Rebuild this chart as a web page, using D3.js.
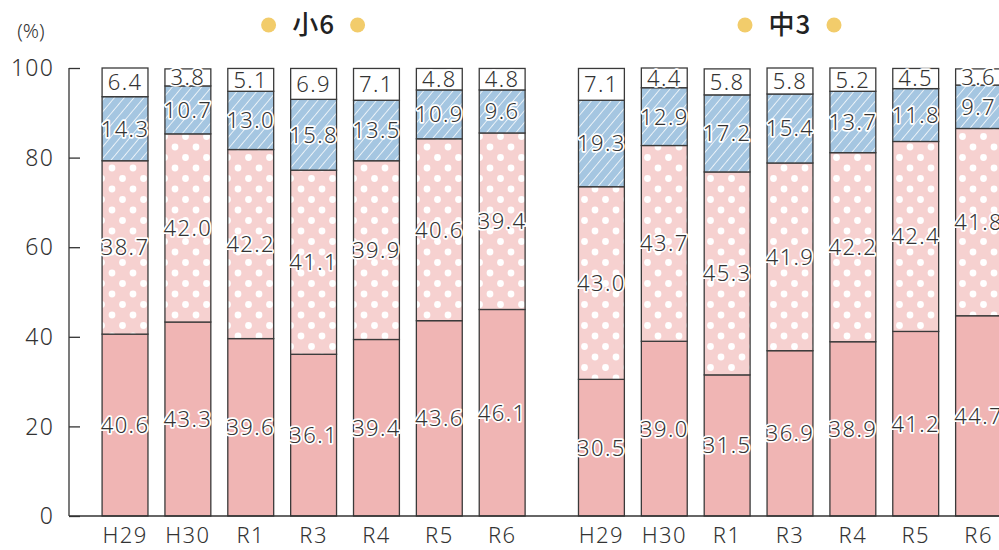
<!DOCTYPE html>
<html><head><meta charset="utf-8">
<script src="https://cdn.jsdelivr.net/npm/d3@7"></script>
<style>
html,body{margin:0;padding:0;background:#fff;}
svg{display:block;}
text{font-family:"Noto Sans","Noto Sans CJK JP",sans-serif;font-weight:300;}
text.title{font-family:"Noto Sans CJK JP","Noto Sans",sans-serif;font-weight:500;}
</style></head>
<body>
<svg id="chart" width="999" height="550"></svg>
<script>
const groups = ["小6", "中3"];
const years = ["H29", "H30", "R1", "R3", "R4", "R5", "R6"];
// segments bottom→top: solid, dotted, striped, white
const solid6   = [40.6, 43.3, 39.6, 36.1, 39.4, 43.6, 46.1];
const dot6     = [38.7, 42.0, 42.2, 41.1, 39.9, 40.6, 39.4];
const stripe6  = [14.3, 10.7, 13.0, 15.8, 13.5, 10.9, 9.6];
const white6   = [6.4, 3.8, 5.1, 6.9, 7.1, 4.8, 4.8];
const solid3   = [30.5, 39.0, 31.5, 36.9, 38.9, 41.2, 44.7];
const dot3     = [43.0, 43.7, 45.3, 41.9, 42.2, 42.4, 41.8];
const stripe3  = [19.3, 12.9, 17.2, 15.4, 13.7, 11.8, 9.7];
const white3   = [7.1, 4.4, 5.8, 5.8, 5.2, 4.5, 3.6];
const yTicks = [0, 20, 40, 60, 80, 100];

const seriesByGroup = [
  [solid6, dot6, stripe6, white6],
  [solid3, dot3, stripe3, white3]
];
const fills = ["#f0b5b4", "url(#dots)", "url(#stripes)", "#ffffff"];

const svg = d3.select("#chart");
const defs = svg.append("defs");
const pd = defs.append("pattern").attr("id", "dots").attr("patternUnits", "userSpaceOnUse")
  .attr("width", 21).attr("height", 21).attr("x", 7).attr("y", 0);
pd.append("rect").attr("width", 21).attr("height", 21).attr("fill", "#f6d1d0");
[[0,0],[21,0],[0,21],[21,21],[10.5,10.5]].forEach(p =>
  pd.append("circle").attr("cx", p[0]).attr("cy", p[1]).attr("r", 3.4).attr("fill", "#fff"));

const ps = defs.append("pattern").attr("id", "stripes").attr("patternUnits", "userSpaceOnUse")
  .attr("width", 7.5).attr("height", 7.5).attr("patternTransform", "rotate(40)");
ps.append("rect").attr("width", 7.5).attr("height", 7.5).attr("fill", "#a5c6e1");
ps.append("line").attr("x1", 0).attr("y1", 0).attr("x2", 0).attr("y2", 7.5)
  .attr("stroke", "#fff").attr("stroke-width", 1.5);

const y = d3.scaleLinear().domain([0, 100]).range([516, 68]);
const xScales = [
  d3.scaleBand().domain(years).range([93.6, 533.6]).paddingInner(0.27).paddingOuter(0.135),
  d3.scaleBand().domain(years).range([570, 1010]).paddingInner(0.27).paddingOuter(0.135)
];

groups.forEach((g, gi) => {
  const x = xScales[gi];
  const series = seriesByGroup[gi];
  const stackData = years.map((yr, i) => {
    const o = { year: yr };
    series.forEach((s, k) => o["s" + k] = s[i]);
    return o;
  });
  const stacked = d3.stack().keys(["s0", "s1", "s2", "s3"])(stackData);
  const gg = svg.append("g");
  stacked.forEach((layer, k) => {
    gg.selectAll(null).data(layer).enter().append("rect")
      .attr("x", d => x(d.data.year))
      .attr("width", x.bandwidth())
      .attr("y", d => y(d[1]))
      .attr("height", d => y(d[0]) - y(d[1]))
      .attr("fill", fills[k])
      .attr("stroke", "#3a3a3a")
      .attr("stroke-width", 1.3);
  });
  stacked.forEach((layer, k) => {
    gg.selectAll(null).data(layer).enter().append("text")
      .attr("x", d => x(d.data.year) + x.bandwidth() / 2)
      .attr("y", d => y((d[0] + d[1]) / 2))
      .attr("dy", "0.36em")
      .attr("text-anchor", "middle")
      .attr("font-size", 22)
      .attr("letter-spacing", 1.4)
      .attr("fill", "#333")
      .attr("stroke", "#fff").attr("stroke-width", 3.5)
      .attr("stroke-linejoin", "round")
      .attr("paint-order", "stroke")
      .text(d => (d[1] - d[0]).toFixed(1));
  });
  gg.selectAll(null).data(years).enter().append("text")
    .attr("x", d => x(d) + x.bandwidth() / 2)
    .attr("y", 535)
    .attr("dy", "0.36em")
    .attr("text-anchor", "middle")
    .attr("font-size", 22)
    .attr("letter-spacing", 1.4)
    .attr("fill", "#333")
    .text(d => d);
  const cx = (x(years[0]) + x(years[years.length - 1]) + x.bandwidth()) / 2;
  svg.append("text").attr("class", "title")
    .attr("x", cx).attr("y", 25).attr("dy", "0.36em")
    .attr("text-anchor", "middle")
    .attr("font-size", 26)
    .attr("letter-spacing", 1)
    .attr("fill", "#222")
    .text(g);
  svg.append("circle").attr("cx", cx - 45).attr("cy", 25).attr("r", 7.5).attr("fill", "#f2cc6b");
  svg.append("circle").attr("cx", cx + 44).attr("cy", 25).attr("r", 7.5).attr("fill", "#f2cc6b");
});

const yAxis = d3.axisRight(y).tickValues(yTicks).tickSize(11).tickFormat("");
const ya = svg.append("g").attr("transform", "translate(69,0)").call(yAxis);
ya.select(".domain").remove();
ya.selectAll(".tick line").attr("stroke", "#333").attr("stroke-width", 1.3);
svg.append("line").attr("x1", 69).attr("x2", 69).attr("y1", y(100)).attr("y2", y(0))
  .attr("stroke", "#333").attr("stroke-width", 1.3);
svg.append("line").attr("x1", 69).attr("x2", 999).attr("y1", y(0)).attr("y2", y(0))
  .attr("stroke", "#333").attr("stroke-width", 1.3);
svg.selectAll(null).data(yTicks).enter().append("text")
  .attr("x", 54).attr("y", d => y(d)).attr("dy", "0.36em")
  .attr("text-anchor", "end")
  .attr("font-size", 23).attr("letter-spacing", 1.2)
  .attr("fill", "#333")
  .text(d => d);
svg.append("text").attr("x", 31).attr("y", 38).attr("text-anchor", "middle")
  .attr("font-size", 20).attr("fill", "#333").text("(%)");
</script>
</body></html>
